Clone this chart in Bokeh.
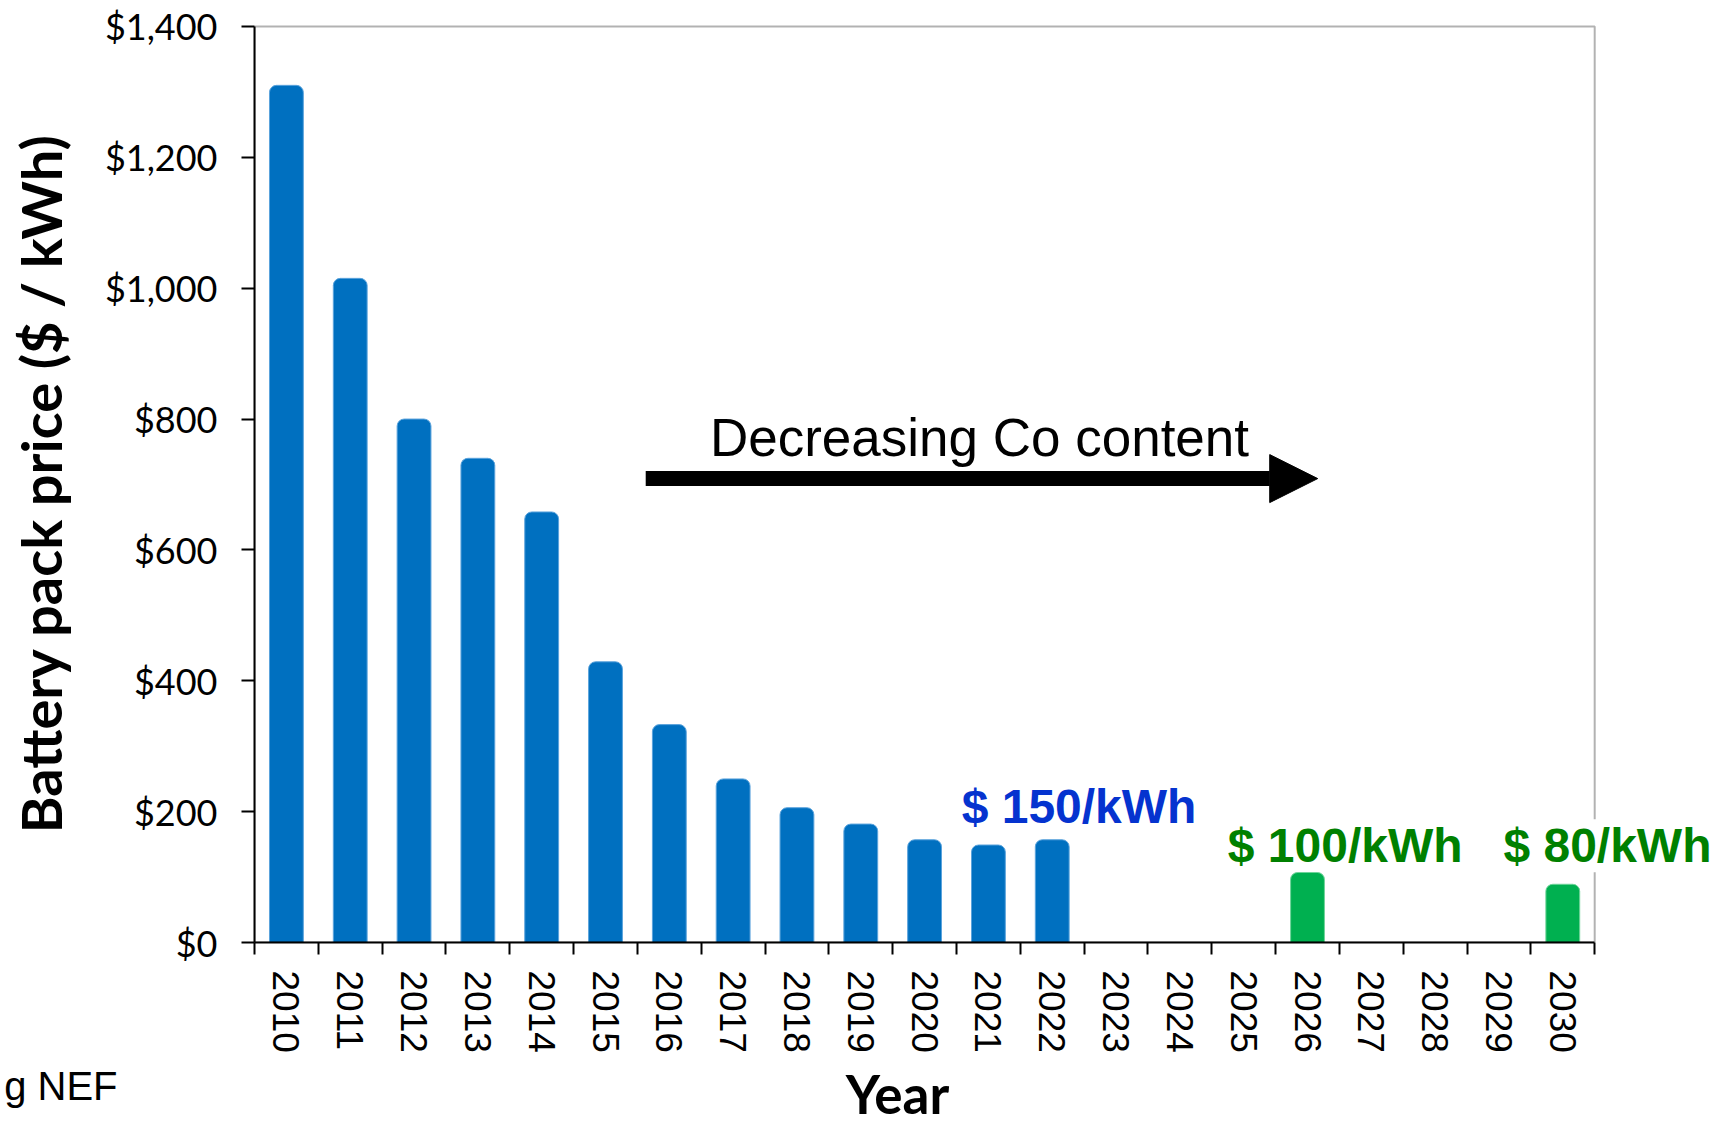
from bokeh.plotting import figure
from bokeh.layouts import column
from bokeh.models import (Range1d, FixedTicker, NumeralTickFormatter, Label, Arrow,
                          NormalHead, ColumnDataSource, BoxAnnotation)
from bokeh.embed import file_html
from bokeh.resources import INLINE

# ---- data ----
years_hist = [2010, 2011, 2012, 2013, 2014, 2015, 2016, 2017, 2018, 2019, 2020, 2021, 2022]
price_hist = [1310, 1015, 800, 740, 658, 429, 333, 250, 206, 181, 157, 149, 157]
years_proj = [2026, 2030]
price_proj = [107, 89]
all_years = list(range(2010, 2031))
y_ticks = [0, 200, 400, 600, 800, 1000, 1200, 1400]

BLUE = "#0070C0"
GREEN = "#00B050"
X0, X1 = all_years[0] - 0.5, all_years[-1] + 0.5
Y0, Y1 = y_ticks[0], y_ticks[-1]

# main chart; frame extended to the right so the "$ 80/kWh" label can overlap the box edge
p = figure(width=1718, height=1060, output_backend="svg", toolbar_location=None,
           x_range=Range1d(X0, 2032.44), y_range=Range1d(Y0, 1403),
           min_border_left=254, min_border_right=0, min_border_top=24,
           min_border_bottom=118)
p.background_fill_color = "white"
p.border_fill_color = "white"
p.outline_line_color = None
p.xgrid.visible = False
p.ygrid.visible = False

# plot box (top and right edges)
p.add_layout(BoxAnnotation(left=X0, right=X1, bottom=Y0, top=Y1, fill_alpha=0,
                           line_color="black", line_width=2, level="annotation"))

src_h = ColumnDataSource(dict(x=years_hist, top=price_hist))
src_p = ColumnDataSource(dict(x=years_proj, top=price_proj))
p.vbar(x="x", top="top", width=0.53, source=src_h, fill_color=BLUE,
       line_color="#5BA3DC", line_width=1, border_radius=(7, 7, 0, 0))
p.vbar(x="x", top="top", width=0.53, source=src_p, fill_color=GREEN,
       line_color="#6FD49A", line_width=1, border_radius=(7, 7, 0, 0))

# y axis
ya = p.yaxis[0]
ya.bounds = (Y0, Y1)
ya.ticker = FixedTicker(ticks=y_ticks, minor_ticks=[])
ya.formatter = NumeralTickFormatter(format="$0,0")
ya.axis_line_width = 2
ya.axis_line_color = "black"
ya.major_tick_line_width = 2
ya.major_tick_out = 13
ya.major_tick_in = 0
ya.minor_tick_out = 0
ya.minor_tick_in = 0
ya.major_label_standoff = 24
ya.major_label_text_font = "Lato"
ya.major_label_text_font_size = "36px"
ya.major_label_text_color = "black"
ya.axis_label = "Battery pack price ($ / kWh)"
ya.axis_label_text_font = "Lato"
ya.axis_label_text_font_style = "bold"
ya.axis_label_text_font_size = "56px"
ya.axis_label_text_color = "black"
ya.axis_label_standoff = 28

# x axis: labels at centres, ticks on category boundaries
xa = p.xaxis[0]
xa.bounds = (X0, X1)
xa.ticker = FixedTicker(ticks=all_years, minor_ticks=[y - 0.5 for y in all_years] + [X1])
xa.axis_line_width = 2
xa.axis_line_color = "black"
xa.major_tick_out = 0
xa.major_tick_in = 0
xa.minor_tick_out = 12
xa.minor_tick_in = 0
xa.minor_tick_line_width = 2
xa.minor_tick_line_color = "black"
xa.major_label_orientation = "vertical"
xa.major_label_standoff = 16
xa.major_label_text_font = "Liberation Sans"
xa.major_label_text_font_size = "37px"
xa.major_label_text_color = "black"

# annotations
p.add_layout(Arrow(end=NormalHead(size=48, fill_color="black", line_color="black", line_width=1),
                   x_start=2015.63, y_start=709, x_end=2026.16, y_end=709,
                   line_width=15, line_color="black"))
p.add_layout(Label(x=2020.86, y=772, text="Decreasing Co content", text_align="center",
                   text_baseline="alphabetic", text_font="Liberation Sans",
                   text_font_size="53px", text_color="black"))
p.add_layout(Label(x=2022.42, y=208, text="$ 150/kWh", text_align="center",
                   text_baseline="alphabetic", text_font="Liberation Sans",
                   text_font_style="bold", text_font_size="48px", text_color="#0533CF"))
p.add_layout(Label(x=2026.59, y=148, text="$ 100/kWh", text_align="center",
                   text_baseline="alphabetic", text_font="Liberation Sans",
                   text_font_style="bold", text_font_size="48px", text_color="#008000"))
p.add_layout(Label(x=2030.70, y=148, level="overlay",
                   text="$ 80/kWh", text_align="center",
                   text_baseline="alphabetic", text_font="Liberation Sans",
                   text_font_style="bold", text_font_size="48px", text_color="#008000",
                   background_fill_color="white"))

# bottom strip: x-axis title, and the source fragment as a left-axis label
SRC_Y = 48
s = figure(width=1718, height=67, output_backend="svg", toolbar_location=None,
           x_range=Range1d(254, 1718), y_range=Range1d(0, 67),
           x_axis_type=None, min_border=0, min_border_left=254)
s.outline_line_color = None
s.background_fill_color = "white"
s.border_fill_color = "white"
s.xgrid.visible = False
s.ygrid.visible = False
sy = s.yaxis[0]
sy.ticker = FixedTicker(ticks=[SRC_Y], minor_ticks=[])
sy.major_label_overrides = {SRC_Y: "g NEF"}
sy.axis_line_color = None
sy.major_tick_line_color = None
sy.major_tick_out = 0
sy.major_tick_in = 0
sy.minor_tick_out = 0
sy.minor_tick_in = 0
sy.major_label_standoff = 137
sy.major_label_text_font = "Liberation Sans"
sy.major_label_text_font_size = "40px"
sy.major_label_text_color = "black"
s.add_layout(Label(x=897, y=34, text="Year", text_align="center",
                   text_baseline="alphabetic", text_font="Lato",
                   text_font_style="bold", text_font_size="53px", text_color="black"))

layout = column(p, s, spacing=0)
open("out.html", "w").write(file_html(layout, INLINE))
